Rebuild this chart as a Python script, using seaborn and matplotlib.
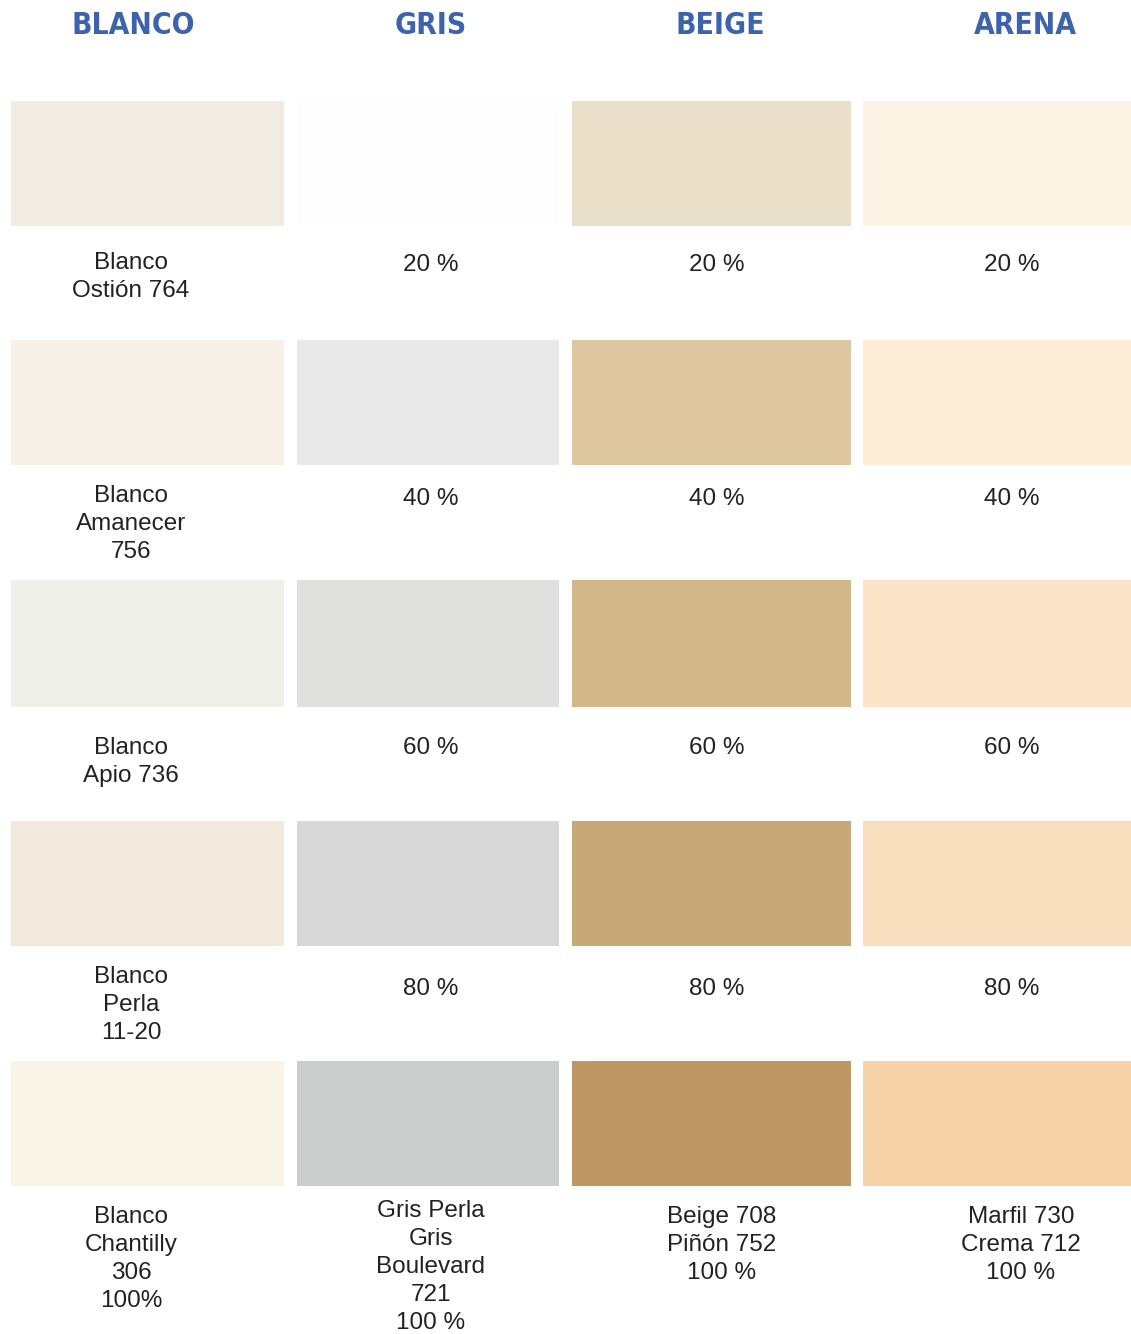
import matplotlib
matplotlib.use("Agg")
import matplotlib.pyplot as plt
import seaborn as sns
import numpy as np
from matplotlib.colors import ListedColormap

sns.set_style("white")
plt.rcParams['font.family'] = ['Liberation Sans', 'DejaVu Sans']

# --- data -------------------------------------------------------------
families = ["BLANCO", "GRIS", "BEIGE", "ARENA"]

blanco_colors = ["#F0ECE4", "#F6F0E6", "#EFF1E8", "#F1E9DB", "#F8F4E6"]
gris_colors = ["#FCFDFC", "#E9E9E9", "#E0E0DF", "#D7D8D7", "#CCCECD"]
beige_colors = ["#EADFC8", "#DEC7A0", "#D3B78B", "#C8A877", "#BD9864"]
arena_colors = ["#FDF3E5", "#FDECD6", "#FCE4C8", "#FADFBF", "#F8D3A8"]

blanco_labels = ["Blanco\nOstión 764", "Blanco\nAmanecer\n756", "Blanco\nApio 736",
                 "Blanco\nPerla\n11-20", "Blanco\nChantilly\n306\n100%"]
gris_labels = ["20 %", "40 %", "60 %", "80 %", "Gris Perla\nGris\nBoulevard\n721\n100 %"]
beige_labels = ["20 %", "40 %", "60 %", "80 %", "Beige 708\nPiñón 752\n100 %"]
arena_labels = ["20 %", "40 %", "60 %", "80 %", "Marfil 730\nCrema 712\n100 %"]

all_colors = [blanco_colors, gris_colors, beige_colors, arena_colors]
all_labels = [blanco_labels, gris_labels, beige_labels, arena_labels]

# --- layout (pixels) --------------------------------------------------
W, H = 1131, 1334
col_x = [(11, 284), (297, 559), (572, 851), (863, 1131)]
row_y = [(101, 226), (340, 465), (580, 707), (821, 946), (1061, 1186)]
head_x = [133, 431, 720, 1025]
label_x = [[131, 431, 717, 1012]] * 4 + [[131, 431, 722, 1021]]
label_y = [[263, 265, 265, 265],
           [496, 499, 499, 499],
           [748, 748, 748, 748],
           [977, 989, 989, 989],
           [1217, 1211, 1217, 1217]]
line_h = 28

fig = plt.figure(figsize=(W / 100, H / 100), dpi=100)
fig.patch.set_facecolor("white")

for c, fam in enumerate(families):
    fig.text(head_x[c] / W, 1 - 25 / H, fam, ha="center", va="center",
             fontsize=21.5, fontweight="bold", color="#3D63AC",
             family=["DejaVu Sans"], fontstretch="condensed")
    x0, x1 = col_x[c]
    for r, col in enumerate(all_colors[c]):
        y0, y1 = row_y[r]
        ax = fig.add_axes([x0 / W, 1 - y1 / H, (x1 - x0) / W, (y1 - y0) / H])
        sns.heatmap(np.array([[r]]), cmap=ListedColormap([col]), cbar=False,
                    xticklabels=False, yticklabels=False, ax=ax)
        ax.set_axis_off()
        for i, line in enumerate(all_labels[c][r].split("\n")):
            yy = label_y[r][c] + i * line_h
            fig.text(label_x[r][c] / W, 1 - yy / H, line, ha="center", va="center",
                     fontsize=17.5, color="#222222")

fig.savefig("out.png", dpi=100, facecolor="white")
